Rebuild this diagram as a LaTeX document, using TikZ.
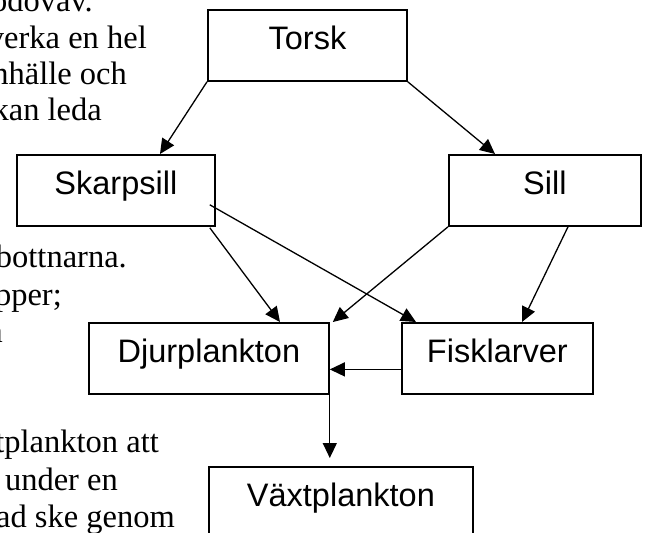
\documentclass[tikz,border=0pt]{standalone}
\usepackage{fontspec}
\setmainfont{Liberation Serif}
\newfontfamily\boxfont{Liberation Sans}
\usetikzlibrary{arrows.meta,calc}
\begin{document}
\begin{tikzpicture}[x=1pt,y=-1pt,
  box/.style={draw,line width=1.8pt,inner sep=0pt,text height=40pt,text depth=31pt,
    anchor=north west,font=\boxfont\fontsize{32.5}{36}\selectfont},
  arr/.style={line width=1.3pt,-{Triangle[length=15pt,width=14pt]}},
  para/.style={inner sep=0pt,anchor=base east,font=\fontsize{32.5}{38}\selectfont}]
\useasboundingbox (0,0) rectangle (646,533);
\clip (0,0) rectangle (646,533);
\fill[white] (0,0) rectangle (646,533);

% left body text (cut off at the left edge)
\node[para] (t1) at (93,11) {odovav.};
\node[para] (t2) at (147,48) {verka en hel};
\node[para] (t3) at (127,84) {nhälle och};
\node[para] (t4) at (102,120) {kan leda};
\node[para] (t5) at (127,267) {bottnarna.};
\node[para] (t6) at (62,305) {pper;};
\node[para] (t7) at (3,342) {a};
\node[para] (t8) at (159,452) {tplankton att};
\node[para] (t9) at (118,490) {a under en};
\node[para] (t10) at (175,527) {ad ske genom};

% boxes
\node[box,minimum width=199pt] (torsk) at (207,9) {Torsk};
\node[box,minimum width=198pt] (skarp) at (16,154) {Skarpsill};
\node[box,minimum width=192pt] (sill) at (448,154) {Sill};
\node[box,minimum width=240pt] (djur) at (88,322) {Djurplankton};
\node[box,minimum width=191pt] (fisk) at (401,322) {Fisklarver};
\node[box,minimum width=264pt] (vaxt) at (208,466) {Växtplankton};

% connectors
\draw[arr] (torsk.south west) -- ([shift={(144,0)}]skarp.north west);
\draw[arr] (torsk.south east) -- ([shift={(47,0)}]sill.north west);
\draw[arr] ([shift={(-6,1)}]skarp.south east) -- ([shift={(192,0)}]djur.north west);
\draw[arr] ([shift={(-6,-22)}]skarp.south east) -- ([shift={(15,0)}]fisk.north west);
\draw[arr] (sill.south west) -- ([shift={(3,0)}]djur.north east);
\draw[arr] ([shift={(120,0)}]sill.south west) -- ([shift={(121,0)}]fisk.north west);
\draw[arr] ([shift={(0,11)}]fisk.west) coordinate (f7) -- (djur.east |- f7);
\draw[arr] (djur.south east) -- ($(djur.south east |- vaxt.north)+(0,-8)$);
\end{tikzpicture}
\end{document}
